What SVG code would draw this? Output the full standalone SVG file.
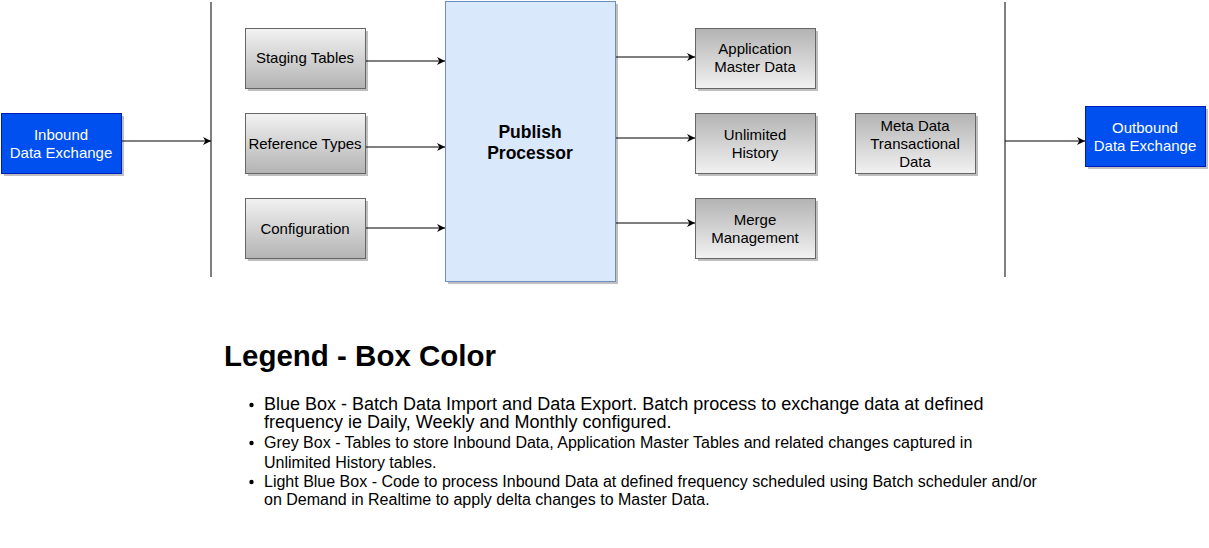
<svg xmlns="http://www.w3.org/2000/svg" width="1209" height="548" viewBox="0 0 1209 548">
<style>
text{font-family:"Liberation Sans",Arial,Helvetica,sans-serif}
.lbl{font-size:15px;text-anchor:middle;fill:#000}
.wlbl{font-size:15px;text-anchor:middle;fill:#fff}
.grey{stroke:#666;stroke-width:1}
.gd{fill:url(#gDown)}
.gu{fill:url(#gUp)}
.blue{fill:#0050ef;stroke:#001dbc;stroke-width:1}
.shadow{fill:#000;opacity:0.25}
.conn{stroke:#000;stroke-width:1;fill:none}
.leg{font-size:16px;fill:#000}
</style>
<defs>
<linearGradient id="gDown" x1="0" y1="0" x2="0" y2="1"><stop offset="0" stop-color="#f2f2f2"/><stop offset="1" stop-color="#b3b3b3"/></linearGradient>
<linearGradient id="gUp" x1="0" y1="0" x2="0" y2="1"><stop offset="0" stop-color="#b3b3b3"/><stop offset="1" stop-color="#f2f2f2"/></linearGradient>
<marker id="arr" viewBox="0 0 10 10" refX="10" refY="5" markerWidth="8" markerHeight="8" markerUnits="userSpaceOnUse" orient="auto"><path d="M0,0 L10,5 L0,10 L3,5 Z" fill="#000"/></marker>
</defs>
<rect width="1209" height="548" fill="#fff"/>

<g id="connectors">
<line class="conn" x1="211" y1="2" x2="211" y2="277"/>
<line class="conn" x1="1005" y1="2" x2="1005" y2="277"/>
<line class="conn" x1="121" y1="141" x2="211" y2="141" marker-end="url(#arr)"/>
<line class="conn" x1="365" y1="61" x2="445" y2="61" marker-end="url(#arr)"/>
<line class="conn" x1="365" y1="147" x2="445" y2="147" marker-end="url(#arr)"/>
<line class="conn" x1="365" y1="228" x2="445" y2="228" marker-end="url(#arr)"/>
<line class="conn" x1="615" y1="57" x2="695" y2="57" marker-end="url(#arr)"/>
<line class="conn" x1="615" y1="138" x2="695" y2="138" marker-end="url(#arr)"/>
<line class="conn" x1="615" y1="223" x2="695" y2="223" marker-end="url(#arr)"/>
<line class="conn" x1="1005" y1="141" x2="1085" y2="141" marker-end="url(#arr)"/>
</g>

<g id="inbound">
<rect class="shadow" x="4" y="116" width="120" height="60"/>
<rect class="blue" x="1.5" y="113.5" width="120" height="60"/>
<text class="wlbl" x="61" y="140">Inbound</text>
<text class="wlbl" x="61" y="158">Data Exchange</text>
</g>

<g id="staging">
<rect class="shadow" x="248" y="31" width="120" height="60"/>
<rect class="grey gd" x="245.5" y="28.5" width="120" height="60"/>
<text class="lbl" x="305" y="63">Staging Tables</text>
</g>
<g id="reftypes">
<rect class="shadow" x="248" y="116" width="120" height="60"/>
<rect class="grey gd" x="245.5" y="113.5" width="120" height="60"/>
<text class="lbl" x="305" y="149">Reference Types</text>
</g>
<g id="config">
<rect class="shadow" x="248" y="201" width="120" height="60"/>
<rect class="grey gd" x="245.5" y="198.5" width="120" height="60"/>
<text class="lbl" x="305" y="234">Configuration</text>
</g>

<g id="publish">
<rect class="shadow" x="448" y="4" width="170" height="280"/>
<rect x="445.5" y="1.5" width="170" height="280" fill="#dae8fc" stroke="#6c8ebf" stroke-width="1"/>
<text x="530" y="138" font-size="17.5" font-weight="bold" text-anchor="middle">Publish</text>
<text x="530" y="159" font-size="17.5" font-weight="bold" text-anchor="middle">Processor</text>
</g>

<g id="appmaster">
<rect class="shadow" x="698" y="31" width="120" height="60"/>
<rect class="grey gu" x="695.5" y="28.5" width="120" height="60"/>
<text class="lbl" x="755" y="54">Application</text>
<text class="lbl" x="755" y="72">Master Data</text>
</g>
<g id="history">
<rect class="shadow" x="698" y="116" width="120" height="60"/>
<rect class="grey gu" x="695.5" y="113.5" width="120" height="60"/>
<text class="lbl" x="755" y="140">Unlimited</text>
<text class="lbl" x="755" y="158">History</text>
</g>
<g id="merge">
<rect class="shadow" x="698" y="201" width="120" height="60"/>
<rect class="grey gu" x="695.5" y="198.5" width="120" height="60"/>
<text class="lbl" x="755" y="225">Merge</text>
<text class="lbl" x="755" y="243">Management</text>
</g>
<g id="metadata">
<rect class="shadow" x="858" y="116" width="120" height="60"/>
<rect class="grey gu" x="855.5" y="113.5" width="120" height="60"/>
<text class="lbl" x="915" y="131">Meta Data</text>
<text class="lbl" x="915" y="149">Transactional</text>
<text class="lbl" x="915" y="167">Data</text>
</g>

<g id="outbound">
<rect class="shadow" x="1088" y="109" width="120" height="60"/>
<rect class="blue" x="1085.5" y="106.5" width="120" height="60"/>
<text class="wlbl" x="1145" y="133">Outbound</text>
<text class="wlbl" x="1145" y="151">Data Exchange</text>
</g>

<g id="legend">
<text x="224" y="366" font-size="29.5" font-weight="bold">Legend - Box Color</text>
<circle cx="251.5" cy="405" r="2.2" fill="#000"/>
<text x="264" y="410" font-size="18">Blue Box - Batch Data Import and Data Export. Batch process to exchange data at defined</text>
<text x="264" y="428" font-size="18">frequency ie Daily, Weekly and Monthly configured.</text>
<circle cx="251.5" cy="443" r="2.2" fill="#000"/>
<text class="leg" x="264" y="448">Grey Box - Tables to store Inbound Data, Application Master Tables and related changes captured in</text>
<text class="leg" x="264" y="468">Unlimited History tables.</text>
<circle cx="251.5" cy="482" r="2.2" fill="#000"/>
<text class="leg" x="264" y="487">Light Blue Box - Code to process Inbound Data at defined frequency scheduled using Batch scheduler and/or</text>
<text class="leg" x="264" y="505">on Demand in Realtime to apply delta changes to Master Data.</text>
</g>
</svg>
